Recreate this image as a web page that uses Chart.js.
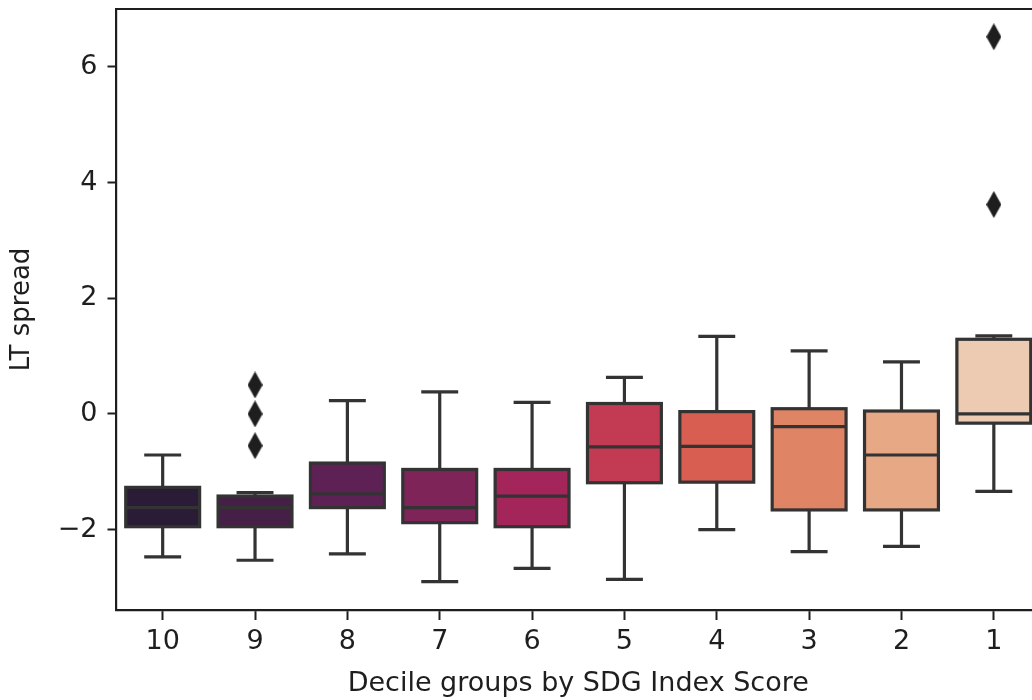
<!DOCTYPE html>
<html>
<head>
<meta charset="utf-8">
<title>LT spread by decile group</title>
<script src="https://cdn.jsdelivr.net/npm/chart.js@4.4.1/dist/chart.umd.min.js"></script>
<style>
  html, body { margin: 0; padding: 0; background: #ffffff; overflow: hidden; }
  #wrap { width: 1032px; height: 700px; overflow: hidden; position: relative; }
  canvas { display: block; }
</style>
</head>
<body>
<div id="wrap"><canvas id="chart" width="1050" height="700"></canvas></div>
<script>
// Decile groups, ordered from the lowest SDG Index Score decile (10) to the highest (1)
const groups = ['10', '9', '8', '7', '6', '5', '4', '3', '2', '1'];

// Five-number summaries of the LT spread in each group
const whiskerLow  = [-2.47, -2.53, -2.42, -2.90, -2.67, -2.86, -2.00, -2.38, -2.29, -1.34];
const quartile1   = [-1.95, -1.95, -1.62, -1.88, -1.95, -1.19, -1.18, -1.66, -1.66, -0.16];
const medians     = [-1.62, -1.62, -1.38, -1.62, -1.42, -0.57, -0.56, -0.22, -0.71,  0.00];
const quartile3   = [-1.27, -1.42, -0.85, -0.96, -0.96,  0.18,  0.04,  0.09,  0.05,  1.29];
const whiskerHigh = [-0.71, -1.36,  0.23,  0.38,  0.20,  0.63,  1.34,  1.09,  0.90,  1.35];

// Points beyond the whiskers
const outlierGroup = ['9', '9', '9', '1', '1'];
const outlierValue = [0.50, 0.00, -0.55, 3.62, 6.52];

// Value axis ticks
const yTickValues = [-2, 0, 2, 4, 6];

// Box fills (muted "rocket" ramp)
const boxColors = ['#2a1b37', '#461f47', '#5e2155', '#7e2459', '#a3255a',
                   '#c33b53', '#d75e50', '#e08466', '#e7a886', '#edcab2'];

const LINE = '#333333';
const INK = '#1e1e1e';
const FONT = 'DejaVu Sans';

// Thin diamond marker for the outliers
function thinDiamond(w, h, color) {
  const c = document.createElement('canvas');
  c.width = w; c.height = h;
  const g = c.getContext('2d');
  g.fillStyle = color;
  g.beginPath();
  g.moveTo(w / 2, 0);
  g.lineTo(w, h / 2);
  g.lineTo(w / 2, h);
  g.lineTo(0, h / 2);
  g.closePath();
  g.fill();
  return c;
}

// Whiskers, caps, box outline and median line, drawn on top of the filled boxes
const boxOutline = {
  id: 'boxOutline',
  afterDatasetDraw(chart, args) {
    if (args.index !== 0) return;
    const ctx = chart.ctx;
    const y = chart.scales.y;
    const meta = chart.getDatasetMeta(0);
    ctx.save();
    ctx.strokeStyle = LINE;
    ctx.lineWidth = 3.2;
    ctx.lineCap = 'butt';
    const seg = (x1, y1, x2, y2) => {
      ctx.beginPath(); ctx.moveTo(x1, y1); ctx.lineTo(x2, y2); ctx.stroke();
    };
    meta.data.forEach((bar, i) => {
      const p = bar.getProps(['x', 'width'], true);
      const cx = p.x, half = p.width / 2, capHalf = p.width / 4;
      const pLo = y.getPixelForValue(whiskerLow[i]);
      const pQ1 = y.getPixelForValue(quartile1[i]);
      const pMed = y.getPixelForValue(medians[i]);
      const pQ3 = y.getPixelForValue(quartile3[i]);
      const pHi = y.getPixelForValue(whiskerHigh[i]);
      seg(cx, pQ1, cx, pLo);
      seg(cx, pQ3, cx, pHi);
      seg(cx - capHalf, pLo, cx + capHalf, pLo);
      seg(cx - capHalf, pHi, cx + capHalf, pHi);
      ctx.strokeRect(cx - half, pQ3, 2 * half, pQ1 - pQ3);
      seg(cx - half, pMed, cx + half, pMed);
    });
    ctx.restore();
  },
  afterDraw(chart) {
    const a = chart.chartArea;
    const ctx = chart.ctx;
    ctx.save();
    ctx.strokeStyle = INK;
    ctx.lineWidth = 2.2;
    ctx.beginPath();
    ctx.moveTo(a.left - 1.1, a.top);
    ctx.lineTo(a.right, a.top);
    ctx.lineTo(a.right, a.bottom);
    ctx.stroke();
    ctx.restore();
  }
};

const fmtTick = v => (v < 0 ? '\u2212' + Math.abs(v) : String(v));

new Chart(document.getElementById('chart'), {
  type: 'bar',
  data: {
    labels: groups,
    datasets: [
      {
        label: 'LT spread',
        data: groups.map((g, i) => [quartile1[i], quartile3[i]]),
        backgroundColor: boxColors,
        borderWidth: 0,
        barPercentage: 0.8,
        categoryPercentage: 1.0,
        order: 1
      },
      {
        type: 'line',
        label: 'Outliers',
        data: outlierGroup.map((g, i) => ({ x: g, y: outlierValue[i] })),
        showLine: false,
        pointStyle: thinDiamond(15, 27, '#1e1e1e'),
        pointRadius: 8,
        order: 0
      }
    ]
  },
  options: {
    responsive: false,
    devicePixelRatio: 1,
    animation: false,
    layout: { padding: { top: 8, right: 10, left: 0, bottom: 0 } },
    plugins: {
      legend: { display: false },
      tooltip: { enabled: false }
    },
    scales: {
      x: {
        type: 'category',
        offset: true,
        grid: {
          display: true, drawOnChartArea: false, drawTicks: true, offset: false,
          tickLength: 10, tickWidth: 2, tickColor: INK
        },
        border: { display: true, color: INK, width: 2.2 },
        ticks: {
          color: INK, padding: 6, maxRotation: 0, autoSkip: false,
          font: { family: FONT, size: 27 }
        },
        title: {
          display: true, text: 'Decile groups by SDG Index Score', color: INK,
          font: { family: FONT, size: 27 }, padding: { top: 2, bottom: 0 }
        },
        afterFit(s) {
          s.height = 90;
          s.paddingLeft = 0; s.paddingRight = 0;
        }
      },
      y: {
        type: 'linear',
        min: -3.39,
        max: 7.0,
        afterBuildTicks(s) { s.ticks = yTickValues.map(v => ({ value: v })); },
        grid: {
          display: true, drawOnChartArea: false, drawTicks: true,
          tickLength: 9, tickWidth: 2, tickColor: INK
        },
        border: { display: true, color: INK, width: 2.2 },
        ticks: {
          color: INK, padding: 10,
          font: { family: FONT, size: 27 },
          callback: v => fmtTick(v)
        },
        title: {
          display: true, text: 'LT spread', color: INK,
          font: { family: FONT, size: 26 }, padding: { top: 7, bottom: 0 }
        },
        afterFit(s) {
          s.width = 116.5;
          s.paddingTop = 0; s.paddingBottom = 0;
        }
      }
    }
  },
  plugins: [boxOutline]
});
</script>
</body>
</html>
